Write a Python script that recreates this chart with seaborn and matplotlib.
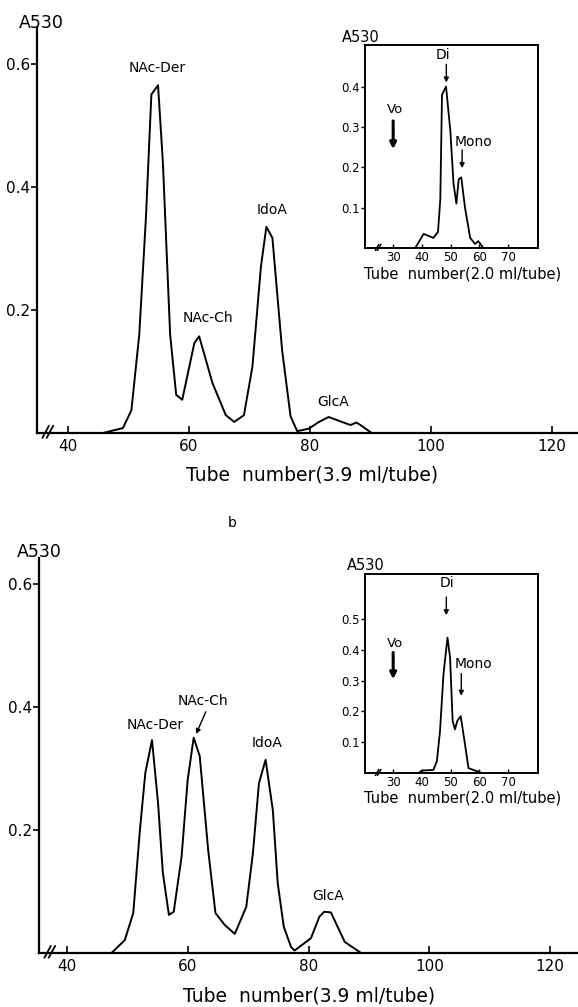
import matplotlib
matplotlib.use("Agg")
import matplotlib.pyplot as plt
import seaborn as sns
import pandas as pd

# ---------------- data ----------------
# Panel a, main chromatogram (tube number, 3.9 ml/tube)
a_tube = [45.8, 49.1, 50.5, 51.8, 52.9, 53.8, 54.9, 55.7, 56.9, 57.9, 58.9, 60.9, 61.7,
          63.9, 66.1, 67.5, 69.1, 70.5, 71.9, 72.8, 73.8, 75.4, 76.8, 77.9, 79.8, 81.5,
          83.1, 85.0, 86.7, 87.7, 88.5, 90.2]
a_abs = [0.0, 0.008, 0.037, 0.16, 0.35, 0.55, 0.565, 0.44, 0.16, 0.062, 0.054, 0.146, 0.157,
         0.081, 0.029, 0.018, 0.029, 0.108, 0.27, 0.335, 0.317, 0.135, 0.027, 0.003, 0.007, 0.018,
         0.026, 0.019, 0.013, 0.017, 0.012, 0.0]

# Panel a, inset (tube number, 2.0 ml/tube)
ai_tube = [36.0, 37.7, 40.6, 44.0, 45.6, 46.4, 47.0, 48.4, 49.9, 51.0, 52.0, 52.8, 53.7,
           55.0, 56.8, 58.5, 59.6, 61.4]
ai_abs = [0.0, 0.0, 0.035, 0.025, 0.04, 0.12, 0.38, 0.40, 0.29, 0.16, 0.11, 0.17, 0.175,
          0.10, 0.025, 0.01, 0.017, 0.0]

# Panel b, main chromatogram
b_tube = [47.4, 49.6, 51.0, 52.1, 53.0, 54.1, 55.1, 55.9, 56.9, 57.7, 59.0, 60.0, 61.0,
          62.0, 63.4, 64.6, 66.1, 67.8, 69.7, 70.8, 71.8, 72.9, 74.1, 74.9, 75.9, 77.1,
          77.7, 80.4, 81.8, 82.6, 83.7, 86.0, 88.7]
b_abs = [0.0, 0.021, 0.065, 0.2, 0.293, 0.346, 0.244, 0.13, 0.062, 0.067, 0.157, 0.281, 0.35,
         0.32, 0.167, 0.065, 0.046, 0.031, 0.075, 0.162, 0.276, 0.314, 0.232, 0.114, 0.043, 0.010,
         0.004, 0.024, 0.059, 0.067, 0.066, 0.018, 0.0]

# Panel b, inset
bi_tube = [38.8, 40.0, 44.0, 45.2, 46.3, 47.5, 48.9, 49.8, 50.7, 51.5, 52.3, 53.5, 55.0,
           56.2, 58.5, 60.8]
bi_abs = [0.0, 0.008, 0.01, 0.038, 0.136, 0.32, 0.44, 0.376, 0.169, 0.142, 0.169, 0.185, 0.093,
          0.016, 0.008, 0.0]

main_xticks = [40, 60, 80, 100, 120]
main_yticks = [0.2, 0.4, 0.6]
inset_xticks = [30, 40, 50, 60, 70]
inset_yticks_a = [0.1, 0.2, 0.3, 0.4]
inset_yticks_b = [0.1, 0.2, 0.3, 0.4, 0.5]

main_xlabel = "Tube  number(3.9 ml/tube)"
inset_xlabel = "Tube  number(2.0 ml/tube)"
ylabel = "A530"

# ---------------- style ----------------
sns.set_style("ticks")
plt.rcParams['font.family'] = ['DejaVu Sans']
plt.rcParams['axes.linewidth'] = 1.4
for k in ('text.color', 'axes.labelcolor', 'xtick.color', 'ytick.color', 'axes.edgecolor'):
    plt.rcParams[k] = 'black'

W, H = 578, 1007
fig = plt.figure(figsize=(W / 100, H / 100), dpi=100)


def frac(x0, y0, x1, y1):
    """pixel box (left, top, right, bottom) -> figure fraction rect"""
    return [x0 / W, 1 - y1 / H, (x1 - x0) / W, (y1 - y0) / H]


def style_main(ax, xlim, ylim):
    ax.set_xlim(*xlim)
    ax.set_ylim(*ylim)
    sns.despine(ax=ax)
    ax.spines['left'].set_linewidth(1.6)
    ax.spines['bottom'].set_linewidth(1.6)
    ax.set_xticks(main_xticks)
    ax.set_xticklabels([str(t) for t in main_xticks], fontsize=11)
    ax.set_yticks(main_yticks)
    ax.set_yticklabels([f"{t:.1f}" for t in main_yticks], fontsize=11)
    ax.tick_params(axis='x', direction='in', length=5, width=1.2, pad=4)
    ax.tick_params(axis='y', direction='out', length=4, width=1.2, pad=1)
    ax.set_xlabel("")
    ax.set_ylabel("")
    # axis break marks
    for dx in (0.0, 0.008):
        ax.plot([0.010 + dx, 0.022 + dx], [-0.012, 0.018], transform=ax.transAxes,
                color='black', lw=1.3, clip_on=False)


def style_inset(ax, ylim, yticks):
    ax.set_xlim(20.2, 80.4)
    ax.set_ylim(*ylim)
    for s in ax.spines.values():
        s.set_linewidth(1.4)
    ax.set_xticks(inset_xticks)
    ax.set_xticklabels([str(t) for t in inset_xticks], fontsize=8.5)
    ax.set_yticks(yticks)
    ax.set_yticklabels([f"{t:.1f}" for t in yticks], fontsize=8.5)
    ax.tick_params(axis='x', direction='in', length=3, width=1.0, pad=2)
    ax.tick_params(axis='y', direction='out', length=3, width=1.0, pad=1)
    ax.set_xlabel("")
    ax.set_ylabel("")
    for dx in (0.0, 0.012):
        ax.plot([0.06 + dx, 0.08 + dx], [-0.012, 0.018], transform=ax.transAxes,
                color='black', lw=1.1, clip_on=False)


def arrow(ax, x, y0, y1, thick=False):
    ax.annotate("", xy=(x, y1), xytext=(x, y0),
                arrowprops=dict(arrowstyle="-|>", color='black',
                                lw=2.2 if thick else 1.0,
                                mutation_scale=9 if thick else 7,
                                shrinkA=0, shrinkB=0))


# ---------------- panel a main ----------------
ax1 = fig.add_axes(frac(37, 28, 578, 433))
sns.lineplot(data=pd.DataFrame({"tube": a_tube, "A530": a_abs}), x="tube", y="A530",
             ax=ax1, color='black', lw=1.4)
style_main(ax1, (34.9, 124.3), (0, 0.658))
ax1.text(54.7, 0.593, "NAc-Der", ha='center', va='center', fontsize=10)
ax1.text(63.1, 0.187, "NAc-Ch", ha='center', va='center', fontsize=10)
ax1.text(73.7, 0.363, "IdoA", ha='center', va='center', fontsize=10)
ax1.text(83.8, 0.050, "GlcA", ha='center', va='center', fontsize=10)
fig.text(19 / W, 1 - 23 / H, ylabel, fontsize=12.5, ha='left', va='center')
fig.text(312 / W, 1 - 475 / H, main_xlabel, fontsize=13.5, ha='center', va='center')

# ---------------- panel a inset ----------------
ax2 = fig.add_axes(frac(365, 45, 538, 248))
sns.lineplot(data=pd.DataFrame({"tube": ai_tube, "A530": ai_abs}), x="tube", y="A530",
             ax=ax2, color='black', lw=1.3)
style_inset(ax2, (0, 0.503), inset_yticks_a)
ax2.text(47.4, 0.478, "Di", ha='center', va='center', fontsize=10)
arrow(ax2, 48.5, 0.455, 0.41)
ax2.text(30.7, 0.343, "Vo", ha='center', va='center', fontsize=9.5)
arrow(ax2, 30.0, 0.315, 0.245, thick=True)
ax2.text(57.9, 0.263, "Mono", ha='center', va='center', fontsize=10)
arrow(ax2, 54.0, 0.243, 0.198)
fig.text(342 / W, 1 - 37 / H, ylabel, fontsize=10.5, ha='left', va='center')
fig.text(463 / W, 1 - 274 / H, inset_xlabel, fontsize=10.5, ha='center', va='center')

# ---------------- panel b label ----------------
fig.text(232 / W, 1 - 523 / H, "b", fontsize=10, ha='center', va='center')

# ---------------- panel b main ----------------
ax3 = fig.add_axes(frac(39, 558, 578, 953))
sns.lineplot(data=pd.DataFrame({"tube": b_tube, "A530": b_abs}), x="tube", y="A530",
             ax=ax3, color='black', lw=1.4)
style_main(ax3, (35.4, 124.6), (0, 0.642))
ax3.text(54.6, 0.371, "NAc-Der", ha='center', va='center', fontsize=10)
ax3.text(62.6, 0.410, "NAc-Ch", ha='center', va='center', fontsize=10)
ax3.annotate("", xy=(61.4, 0.356), xytext=(63.0, 0.392),
             arrowprops=dict(arrowstyle="-|>", color='black', lw=1.0, mutation_scale=7,
                             shrinkA=0, shrinkB=0))
ax3.text(73.1, 0.341, "IdoA", ha='center', va='center', fontsize=10)
ax3.text(83.2, 0.093, "GlcA", ha='center', va='center', fontsize=10)
fig.text(17 / W, 1 - 552 / H, ylabel, fontsize=12.5, ha='left', va='center')
fig.text(309 / W, 1 - 996 / H, main_xlabel, fontsize=13.5, ha='center', va='center')

# ---------------- panel b inset ----------------
ax4 = fig.add_axes(frac(365, 574, 538, 773))
sns.lineplot(data=pd.DataFrame({"tube": bi_tube, "A530": bi_abs}), x="tube", y="A530",
             ax=ax4, color='black', lw=1.3)
style_inset(ax4, (0, 0.647), inset_yticks_b)
ax4.text(48.8, 0.618, "Di", ha='center', va='center', fontsize=10)
arrow(ax4, 48.5, 0.572, 0.513)
ax4.text(30.7, 0.421, "Vo", ha='center', va='center', fontsize=9.5)
arrow(ax4, 30.0, 0.392, 0.305, thick=True)
ax4.text(57.9, 0.356, "Mono", ha='center', va='center', fontsize=10)
arrow(ax4, 53.7, 0.323, 0.251)
fig.text(347 / W, 1 - 565 / H, ylabel, fontsize=10.5, ha='left', va='center')
fig.text(463 / W, 1 - 798 / H, inset_xlabel, fontsize=10.5, ha='center', va='center')

fig.savefig("out.png", dpi=100)
